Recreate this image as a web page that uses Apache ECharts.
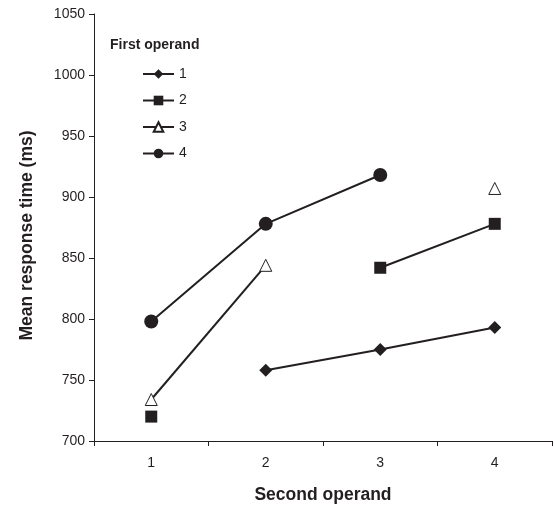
<!DOCTYPE html>
<html>
<head>
<meta charset="utf-8">
<script src="https://cdn.jsdelivr.net/npm/echarts@6/dist/echarts.min.js"></script>
<style>
  html, body { margin: 0; padding: 0; background: #fff; }
  #chart { width: 554px; height: 505px; }
</style>
</head>
<body>
<div id="chart"></div>
<script>
// Second operand categories on the x axis
const secondOperand = ['1', '2', '3', '4'];

// Mean response times (ms) for each first operand; null = no data point
const firstOperand1 = [null, 758, 775, 793];
const firstOperand2 = [720, null, 842, 878];
const firstOperand3 = [734, 844, null, 907];
const firstOperand4 = [798, 878, 918, null];

const seriesNames = ['1', '2', '3', '4'];
const seriesData = [firstOperand1, firstOperand2, firstOperand3, firstOperand4];

const ink = '#231f20';
const font = 'Liberation Sans, Arial, Helvetica, sans-serif';

const symbolStyles = [
  { symbol: 'diamond', symbolSize: 13, itemStyle: { color: ink } },
  { symbol: 'rect', symbolSize: 12, itemStyle: { color: ink } },
  { symbol: 'triangle', symbolSize: 12, itemStyle: { color: '#fff', borderColor: ink, borderWidth: 1 } },
  { symbol: 'circle', symbolSize: 14, itemStyle: { color: ink } }
];

const chart = echarts.init(document.getElementById('chart'), null, { renderer: 'canvas' });

chart.setOption({
  animation: false,
  backgroundColor: '#fff',
  textStyle: { fontFamily: font },
  title: {
    text: 'First operand',
    left: 105,
    top: 33,
    textStyle: { fontSize: 14, fontWeight: 'bold', color: ink, fontFamily: font }
  },
  legend: {
    orient: 'vertical',
    left: 137,
    top: 62,
    itemWidth: 31,
    itemHeight: 12,
    itemGap: 12.5,
    textStyle: { fontSize: 14, color: ink, fontFamily: font },
    data: seriesNames
  },
  grid: { left: 94, right: 2, top: 14, bottom: 64, containLabel: false, outerBoundsMode: 'none' },
  xAxis: {
    type: 'category',
    data: secondOperand,
    boundaryGap: true,
    name: 'Second operand',
    nameLocation: 'middle',
    nameGap: 45,
    nameTextStyle: { fontSize: 17.5, fontWeight: 'bold', color: ink, fontFamily: font },
    axisLine: { lineStyle: { color: ink, width: 1 } },
    axisTick: { show: true, length: 5, alignWithLabel: false, lineStyle: { color: ink } },
    axisLabel: { fontSize: 14, color: ink, margin: 15, fontFamily: font },
    splitLine: { show: false }
  },
  yAxis: {
    type: 'value',
    min: 700,
    max: 1050,
    interval: 50,
    name: 'Mean response time (ms)',
    nameLocation: 'middle',
    nameGap: 58,
    nameTextStyle: { fontSize: 17.5, fontWeight: 'bold', color: ink, fontFamily: font, padding: [0, 16, 0, 0] },
    axisLine: { show: true, lineStyle: { color: ink, width: 1 } },
    axisTick: { show: true, length: 5, lineStyle: { color: ink } },
    axisLabel: { fontSize: 14, color: ink, margin: 9, fontFamily: font, formatter: v => String(v) },
    splitLine: { show: false }
  },
  series: seriesData.map((d, i) => Object.assign({
    name: seriesNames[i],
    type: 'line',
    data: d,
    connectNulls: false,
    showAllSymbol: true,
    lineStyle: { color: ink, width: 2 },
    emphasis: { disabled: true }
  }, symbolStyles[i]))
});
</script>
</body>
</html>
